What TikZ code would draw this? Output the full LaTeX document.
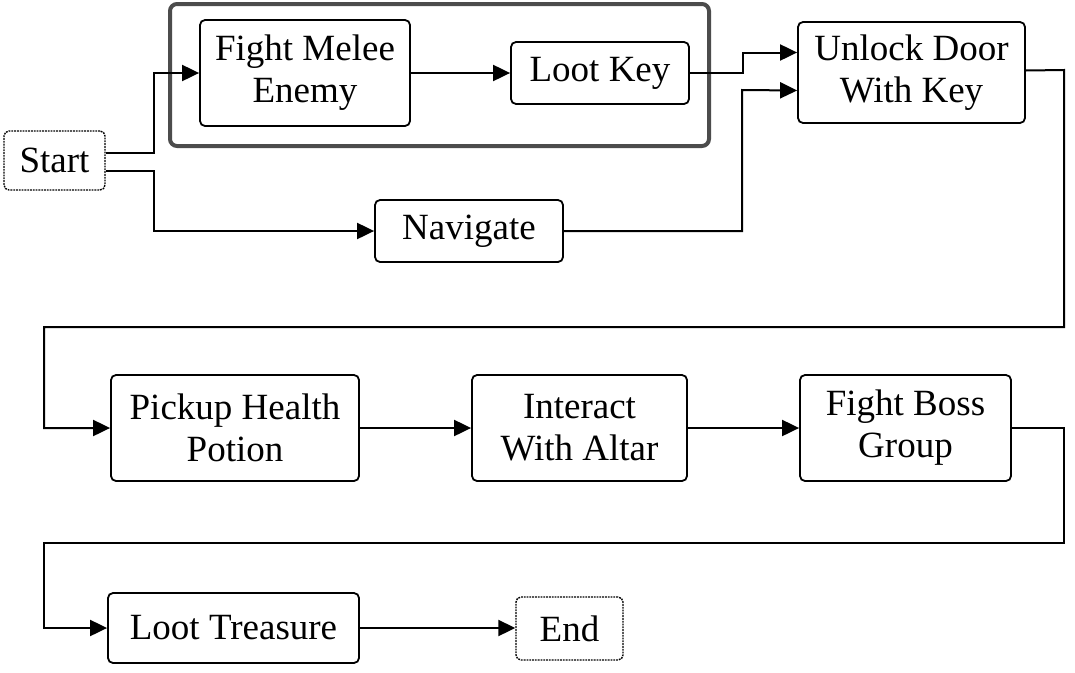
\documentclass[tikz,border=0pt]{standalone}
\usepackage{fontspec}
\setmainfont{Liberation Serif}
\usetikzlibrary{arrows.meta}
\begin{document}
\begin{tikzpicture}[x=1pt,y=-1pt,
  box/.style={draw, line width=1.8pt, rounded corners=5pt, align=center, inner sep=0pt,
              font=\fontsize{37}{42}\selectfont},
  term/.style={box, densely dotted, line width=1.4pt},
  conn/.style={line width=2pt, -{Triangle[length=17pt,width=16pt]}},
  grp/.style={draw=black!70, line width=4pt, rounded corners=7pt, inner sep=0pt}]
\useasboundingbox (0,0) rectangle (1075,672);
\fill[white] (0,0) rectangle (1075,672);

\node[grp, minimum width=539pt, minimum height=142pt] (group) at (439.5,75) {};

\node[term, minimum width=101pt, minimum height=59pt] (start) at (54.5,160.5) {Start};
\node[box, minimum width=210pt, minimum height=106pt] (fight) at (305,73) {Fight Melee\\Enemy};
\node[box, minimum width=178pt, minimum height=62pt] (loot) at (600,73) {Loot Key};
\node[box, minimum width=227pt, minimum height=101pt] (unlock) at (911.5,72.5) {Unlock Door\\With Key};
\node[box, minimum width=188pt, minimum height=62pt] (nav) at (469,231) {Navigate};
\node[box, minimum width=248pt, minimum height=106pt] (pickup) at (235,428) {Pickup Health\\Potion};
\node[box, minimum width=215pt, minimum height=106pt] (interact) at (579.5,428) {Interact\\With Altar};
\node[box, minimum width=211pt, minimum height=106pt] (boss) at (905.5,428) {Fight Boss\\Group};
\node[box, minimum width=251pt, minimum height=70pt] (treasure) at (233.5,628) {Loot Treasure};
\node[term, minimum width=107pt, minimum height=63pt] (end) at (569.5,628.5) {End};

\draw[conn] ([yshift=8pt]start.east) -- ++(48,0) |- (fight.west);
\draw[conn] ([yshift=-10pt]start.east) -- ++(48,0) |- (nav.west);
\draw[conn] (fight.east) -- (loot.west);
\draw[conn] (loot.east) -- ++(53,0) |- ([yshift=20pt]unlock.west);
\draw[conn] (nav.east) -| (742,90) -- ([yshift=-18pt]unlock.west);
\draw[conn] ([yshift=2pt]unlock.east) -- (1064,70) -- (1064,327) -- (44,327) |- (pickup.west);
\draw[conn] (pickup.east) -- (interact.west);
\draw[conn] (interact.east) -- (boss.west);
\draw[conn] (boss.east) -- (1064,428) -- (1064,543) -- (44,543) |- (treasure.west);
\draw[conn] (treasure.east) -- (treasure.east -| end.west);
\end{tikzpicture}
\end{document}
